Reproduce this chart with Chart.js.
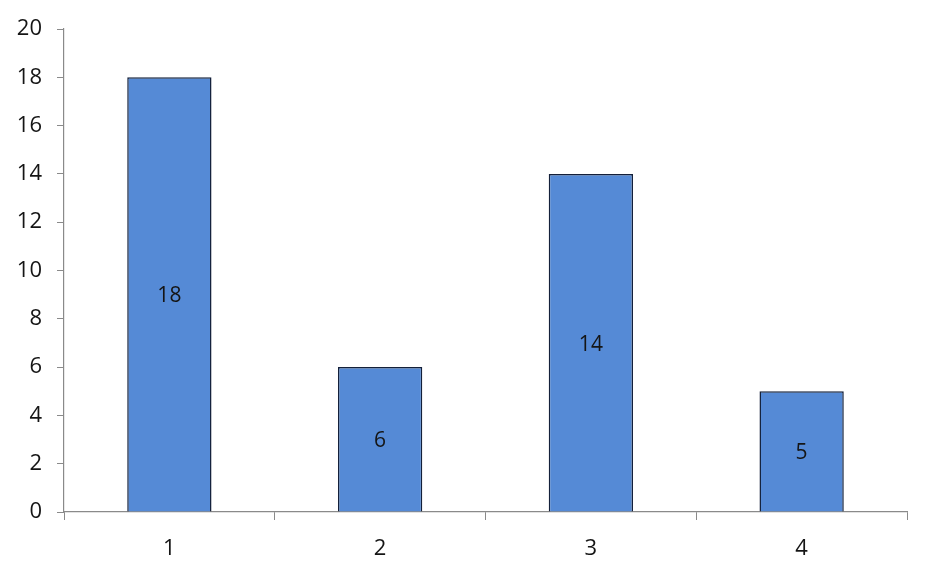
<!DOCTYPE html>
<html>
<head>
<meta charset="utf-8">
<script src="https://cdn.jsdelivr.net/npm/chart.js@4/dist/chart.umd.min.js"></script>
<style>
  html, body { margin: 0; padding: 0; background: #fff; }
  #wrap { width: 934px; height: 569px; }
</style>
</head>
<body>
<div id="wrap"><canvas id="barChart" width="934" height="569"></canvas></div>
<script>
var categories = ['1', '2', '3', '4'];
var values = [18, 6, 14, 5];
var yTicks = [0, 2, 4, 6, 8, 10, 12, 14, 16, 18, 20];

var axisColor = '#8a8a8a';
var textColor = '#151515';
var fontFamily = '"Open Sans", "Liberation Sans", sans-serif';

// draw the value in the middle of each bar
var barLabels = {
    id: 'barLabels',
    afterDatasetsDraw: function(chart) {
        var ctx = chart.ctx;
        var meta = chart.getDatasetMeta(0);
        ctx.save();
        ctx.font = '21px ' + fontFamily;
        ctx.fillStyle = textColor;
        ctx.textAlign = 'center';
        ctx.textBaseline = 'middle';
        meta.data.forEach(function(bar, i) {
            var mid = (bar.y + bar.base) / 2 + 2;
            ctx.fillText(String(values[i]), bar.x, mid);
        });
        ctx.restore();
    }
};

var ctx = document.getElementById('barChart').getContext('2d');
var barChart = new Chart(ctx, {
    type: 'bar',
    data: {
        labels: categories,
        datasets: [{
            data: values,
            backgroundColor: '#558ad6',
            borderColor: '#14203a',
            borderWidth: 1.5,
            barPercentage: 0.4,
            categoryPercentage: 1
        }]
    },
    options: {
        responsive: false,
        animation: false,
        layout: {
            padding: { left: 0, right: 27, top: 29, bottom: 0 }
        },
        plugins: {
            legend: { display: false },
            tooltip: { enabled: false }
        },
        scales: {
            x: {
                offset: true,
                grid: {
                    offset: true,
                    drawOnChartArea: false,
                    drawTicks: true,
                    tickLength: 8,
                    color: axisColor
                },
                border: { color: axisColor, width: 1.2 },
                ticks: {
                    color: textColor,
                    font: { size: 22, family: fontFamily },
                    padding: 16
                },
                afterFit: function(scale) { scale.height = 57; }
            },
            y: {
                min: 0,
                max: 20,
                afterBuildTicks: function(scale) {
                    scale.ticks = yTicks.map(function(v) { return { value: v }; });
                },
                grid: {
                    drawOnChartArea: false,
                    drawTicks: true,
                    tickLength: 7,
                    color: axisColor
                },
                border: { color: axisColor, width: 1.2 },
                ticks: {
                    color: textColor,
                    font: { size: 22, family: fontFamily },
                    padding: 15
                },
                afterFit: function(scale) { scale.width = 64; }
            }
        }
    },
    plugins: [barLabels]
});
</script>
</body>
</html>
